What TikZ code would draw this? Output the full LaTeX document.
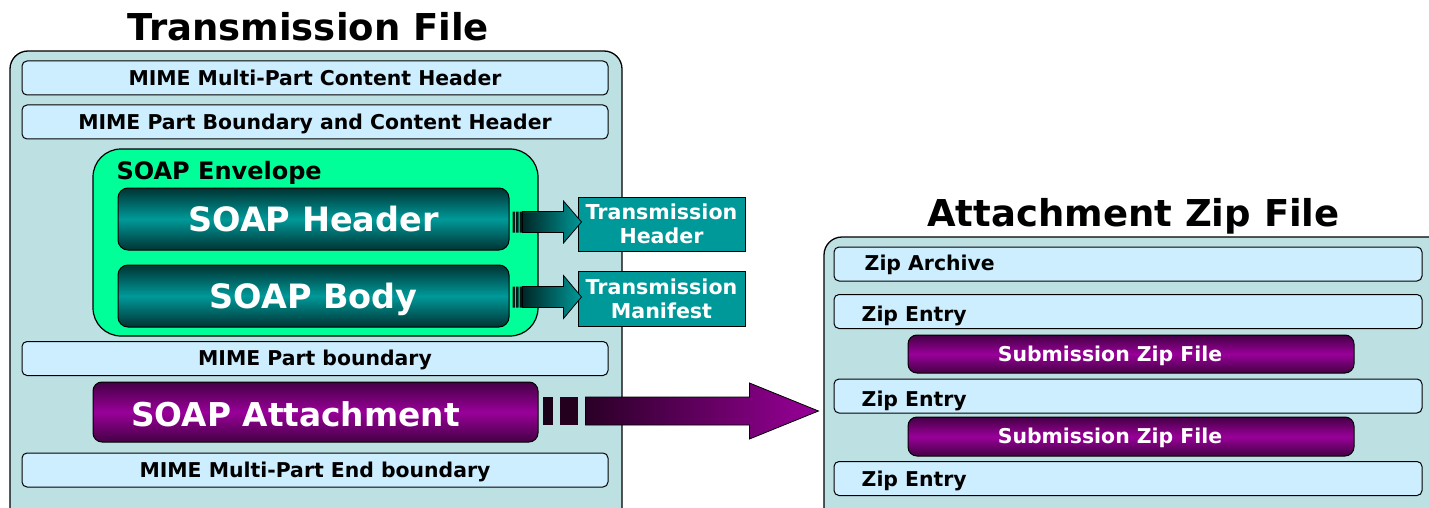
\documentclass[tikz,border=0pt]{standalone}
\usepackage{fontspec}
\setmainfont{DejaVu Sans}
\usetikzlibrary{calc}
\definecolor{outerbg}{HTML}{BDE0E3}
\definecolor{barbg}{HTML}{CCEEFF}
\definecolor{envgreen}{HTML}{00FF99}
\definecolor{tealmid}{HTML}{009999}
\definecolor{tealdark}{HTML}{003333}
\definecolor{purmid}{HTML}{990099}
\definecolor{purdark}{HTML}{440044}
\definecolor{stripeteal}{HTML}{001818}
\definecolor{stripepur}{HTML}{1A0018}
\definecolor{shaftpur}{HTML}{2A0026}
\definecolor{shaftteal}{HTML}{002626}
\newcommand\myfs[1]{\fontsize{#1}{#1}\selectfont}
\begin{document}
\begin{tikzpicture}[x=1pt,y=-1pt,
  cont/.style={draw=black,line width=1.3pt,fill=outerbg,rounded corners=18pt,inner sep=0pt},
  bar/.style={draw=black,line width=1pt,fill=barbg,rounded corners=5pt,inner sep=0pt,minimum height=34pt,font=\bfseries\myfs{20.4},text height=14.6pt,text depth=0pt},
  txt/.style={inner sep=0pt,font=\bfseries\myfs{20.4},text height=14.6pt,text depth=0pt},
  bigtxt/.style={inner sep=0pt,text=white,font=\bfseries\myfs{32.8},text height=24pt,text depth=0pt},
  titletxt/.style={inner sep=0pt,font=\bfseries\myfs{37},text height=27pt,text depth=0pt},
  tealbox/.style={draw=black,line width=1pt,rounded corners=10pt,inner sep=0pt,top color=tealdark,bottom color=tealdark,middle color=tealmid,minimum width=391pt,minimum height=62pt,text=white,font=\bfseries\myfs{33.5},text height=24.4pt,text depth=0pt},
  purbox/.style={draw=black,line width=1pt,rounded corners=9pt,inner sep=0pt,top color=purdark,bottom color=purdark,middle color=purmid},
  infobox/.style={draw=black,line width=1pt,fill=tealmid,inner sep=0pt,minimum width=167pt,minimum height=54pt,text=white,align=center,font=\bfseries\fontsize{20.6}{24}\selectfont},
  arrowline/.style={draw=black,line width=0.8pt}]
\useasboundingbox (0,0) rectangle (1429,508);
\clip (0,0) rectangle (1429,508);
% titles
\node[titletxt] (t1) at (308.5,27) {Transmission File};
\node[titletxt] (t2) at (1133.5,213) {Attachment Zip File};
% left container
\node[cont,minimum width=612pt,minimum height=479pt] (left) at (316,290.5) {};
\node[bar,minimum width=586pt] (b1) at (315,78) {MIME Multi-Part Content Header};
\node[bar,minimum width=586pt] (b2) at (315,122) {MIME Part Boundary and Content Header};
\node[draw=black,line width=1.2pt,fill=envgreen,rounded corners=28pt,inner sep=0pt,minimum width=445pt,minimum height=187pt] (env) at (315.5,242.5) {};
\node[txt,anchor=west,font=\bfseries\myfs{24},text height=17.5pt] (envlbl) at ($(env.north west)+(24,22)$) {SOAP Envelope};
\node[tealbox] (hdr) at (313.5,219) {SOAP Header};
\node[tealbox] (body) at (313.5,296) {SOAP Body};
\node[bar,minimum width=586pt] (b3) at (315,358.5) {MIME Part boundary};
\node[purbox,minimum width=445pt,minimum height=60pt] (att) at (315.5,412) {};
\node[bigtxt] (attlbl) at ($(att.center)+(-20,2)$) {SOAP Attachment};
\node[bar,minimum width=586pt] (b4) at (315,470) {MIME Multi-Part End boundary};
% info boxes
\node[infobox] (th) at (661.5,224) {Transmission\\Header};
\node[infobox,minimum height=55pt] (tm) at (661.5,298.5) {Transmission\\Manifest};
% header arrow
\begin{scope}[shift={($(hdr.east)+(0,3)$)}]
  \fill[stripeteal] (3,-10.5) rectangle (5.5,10.5) (6.5,-10.5) rectangle (9,10.5) (10,-10.5) rectangle (12.5,10.5);
  \path[arrowline,left color=shaftteal,right color=tealmid] (13,-10.5) -- (54,-10.5) -- (54,-21) -- (72,0) -- (54,21) -- (54,10.5) -- (13,10.5) -- cycle;
\end{scope}
% body arrow
\begin{scope}[shift={($(body.east)+(0,1)$)}]
  \fill[stripeteal] (3,-10.5) rectangle (5.5,10.5) (6.5,-10.5) rectangle (9,10.5) (10,-10.5) rectangle (12.5,10.5);
  \path[arrowline,left color=shaftteal,right color=tealmid] (13,-10.5) -- (54,-10.5) -- (54,-21.5) -- (72,0) -- (54,21.5) -- (54,10.5) -- (13,10.5) -- cycle;
\end{scope}
% right container
\node[cont,minimum width=646pt,minimum height=293pt] (right) at (1147,383.5) {};
\node[bar,minimum width=588pt] (za) at (1128,264) {};
\node[txt,anchor=west] (zal) at ($(za.west)+(31,-1)$) {Zip Archive};
\node[bar,minimum width=588pt] (ze1) at (1128,311.5) {};
\node[txt,anchor=west] (ze1l) at ($(ze1.west)+(28,3)$) {Zip Entry};
\node[purbox,minimum width=446pt,minimum height=38pt] (sub1) at (1131,354) {};
\node[txt,text=white] (sub1l) at ($(sub1.center)+(-21,0)$) {Submission Zip File};
\node[bar,minimum width=588pt] (ze2) at (1128,396) {};
\node[txt,anchor=west] (ze2l) at ($(ze2.west)+(28,3.5)$) {Zip Entry};
\node[purbox,minimum width=446pt,minimum height=39pt] (sub2) at (1131,436.5) {};
\node[txt,text=white] (sub2l) at ($(sub2.center)+(-21,0)$) {Submission Zip File};
\node[bar,minimum width=588pt] (ze3) at (1128,478.5) {};
\node[txt,anchor=west] (ze3l) at ($(ze3.west)+(28,1)$) {Zip Entry};
% attachment arrow
\begin{scope}[shift={($(att.east)+(0,-1)$)}]
  \fill[stripepur] (4,-14) rectangle (14,14);
  \fill[shaftpur!80!black] (21,-14) rectangle (39,14);
  \path[arrowline,left color=shaftpur,right color=purmid] (47,-14) -- (211,-14) -- (211,-28) -- (280,0) -- (211,28) -- (211,14) -- (47,14) -- cycle;
\end{scope}
\end{tikzpicture}
\end{document}
